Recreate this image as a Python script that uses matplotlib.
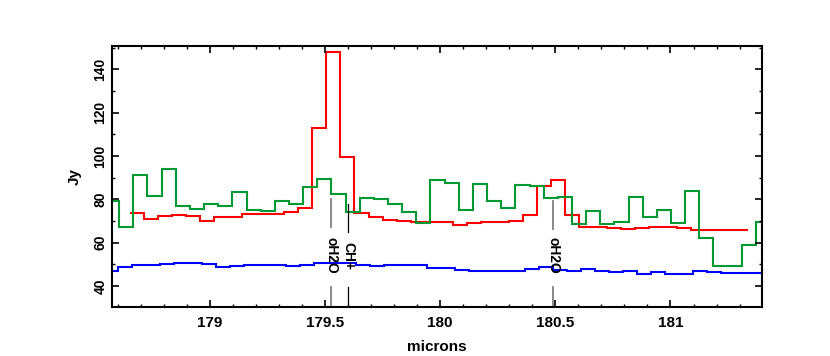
import matplotlib
matplotlib.use('Agg')
import matplotlib.pyplot as plt
from matplotlib.ticker import MultipleLocator

plt.rcParams['font.family'] = ['Liberation Sans', 'DejaVu Sans']
plt.rcParams['font.weight'] = 'bold'

# bin edges (microns) and fluxes (Jy)
green_edges = [178.545, 178.607, 178.668, 178.729, 178.791, 178.852, 178.914, 178.975,
               179.037, 179.098, 179.160, 179.221, 179.282, 179.344, 179.405, 179.467,
               179.528, 179.590, 179.651, 179.712, 179.774, 179.835, 179.897, 179.958,
               180.019, 180.081, 180.142, 180.204, 180.265, 180.326, 180.388, 180.449,
               180.511, 180.572, 180.634, 180.695, 180.756, 180.818, 180.879, 180.941,
               181.002, 181.063, 181.125, 181.186, 181.248, 181.309, 181.370, 181.432]
green_flux = [79, 67, 91, 81.5, 94, 77, 75.5, 78, 77, 83.5, 75, 74.5, 79, 78, 85.5, 89.5,
              82.5, 74, 80.5, 80, 78, 74, 69, 88.7, 87.5, 75, 87, 79.2, 76, 86.7, 86, 80.5,
              81, 68.7, 74.7, 68.8, 69.6, 81, 72, 75.1, 69.2, 84, 62.3, 49.1, 49.1, 59.1, 69.6]

red_edges = [178.653, 178.714, 178.775, 178.836, 178.897, 178.958, 179.019, 179.080,
             179.141, 179.202, 179.263, 179.323, 179.384, 179.445, 179.506, 179.567,
             179.628, 179.689, 179.750, 179.811, 179.872, 179.933, 179.994, 180.055,
             180.116, 180.177, 180.238, 180.299, 180.360, 180.421, 180.482, 180.543,
             180.603, 180.664, 180.725, 180.786, 180.847, 180.908, 180.969, 181.030,
             181.091, 181.152, 181.213, 181.274, 181.335]
red_flux = [73.5, 70.9, 72.3, 72.9, 72.2, 70, 71.8, 71.8, 73, 73.1,
            73.1, 74, 76, 112.8, 148, 99.7, 73.5, 72, 70.5, 69.8,
            69.7, 69.5, 69.5, 68, 68.9, 69.7, 69.4, 70, 72.8, 86.3,
            88.8, 72.8, 67.2, 67.2, 66.8, 66.2, 66.7, 67.0, 67.3, 66.8,
            65.8, 65.8, 65.8, 65.8]

blue_edges = [178.539, 178.600, 178.661, 178.722, 178.783, 178.844, 178.905, 178.966,
              179.027, 179.088, 179.149, 179.209, 179.270, 179.331, 179.392, 179.453,
              179.514, 179.575, 179.636, 179.697, 179.758, 179.819, 179.880, 179.941,
              180.002, 180.063, 180.124, 180.185, 180.246, 180.307, 180.368, 180.429,
              180.490, 180.551, 180.611, 180.672, 180.733, 180.794, 180.855, 180.916,
              180.977, 181.038, 181.099, 181.160, 181.221, 181.282, 181.343, 181.404]
blue_flux = [47.1, 48.6, 49.5, 49.5, 50, 50.5, 50.5, 50, 48.9, 49.4,
             49.8, 49.8, 49.8, 49.4, 49.8, 50.5, 50.5, 50.5, 49.5, 49.1,
             49.5, 49.5, 49.5, 48.2, 48.2, 47.4, 47.1, 47.1, 47.1, 47.1,
             47.8, 48.6, 47.4, 47.1, 47.8, 46.9, 46.3, 46.9, 45.5, 46.5,
             45.4, 45.4, 46.9, 46.3, 45.8, 45.8, 45.8]

# line identifications
line_names = ['oH2O', 'CH+', 'oH2O']
line_waves = [179.527, 179.600, 180.492]
line_colors = ['#808080', 'black', '#808080']
line_tops = [80, 77.7, 79.2]

fig = plt.figure(figsize=(8.3, 3.56), dpi=100)
ax = fig.add_axes([0.1346, 0.1385, 0.7834, 0.7323])

ax.stairs(red_flux, red_edges, baseline=None, color='#ff0000', lw=1.5)
ax.stairs(green_flux, green_edges, baseline=None, color='#009933', lw=1.5)
ax.stairs(blue_flux, blue_edges, baseline=None, color='#0000ff', lw=1.5)

ymin, ymax = 30.45, 150.75
for name, w, c, top in zip(line_names, line_waves, line_colors, line_tops):
    lw = 1.3 if c != 'black' else 0.9
    ax.plot([w, w], [top, top - 13], color=c, lw=lw)
    ax.plot([w, w], [39.5, ymin], color=c, lw=lw)
    ax.text(w, 54, name, rotation=270, ha='center', va='center',
            fontsize=10, fontweight='bold', zorder=5)

ax.set_xlim(178.574, 181.397)
ax.set_ylim(ymin, ymax)

ax.xaxis.set_major_locator(MultipleLocator(0.5))
ax.xaxis.set_minor_locator(MultipleLocator(0.1))
ax.yaxis.set_major_locator(MultipleLocator(20))
ax.yaxis.set_minor_locator(MultipleLocator(10))
ax.tick_params(which='both', direction='in', top=True, right=True)
ax.tick_params(which='major', length=5, width=1.2)
ax.tick_params(which='minor', length=2.5, width=1.0)
ax.tick_params(axis='x', labelsize=11, pad=7)
ax.tick_params(axis='y', labelsize=10, pad=3, labelrotation=90)
for lab in ax.get_yticklabels():
    lab.set_va('center')
ax.set_xticks([179, 179.5, 180, 180.5, 181])
ax.set_xticklabels(['179', '179.5', '180', '180.5', '181'])

for s in ax.spines.values():
    s.set_linewidth(1.5)

ax.set_xlabel('microns', fontsize=11, fontweight='bold')
ax.xaxis.set_label_coords(0.5, -0.128)
ax.set_ylabel('Jy', fontsize=11, fontweight='bold')
ax.yaxis.set_label_coords(-0.046, 0.5)

fig.savefig('out.png', dpi=100)
